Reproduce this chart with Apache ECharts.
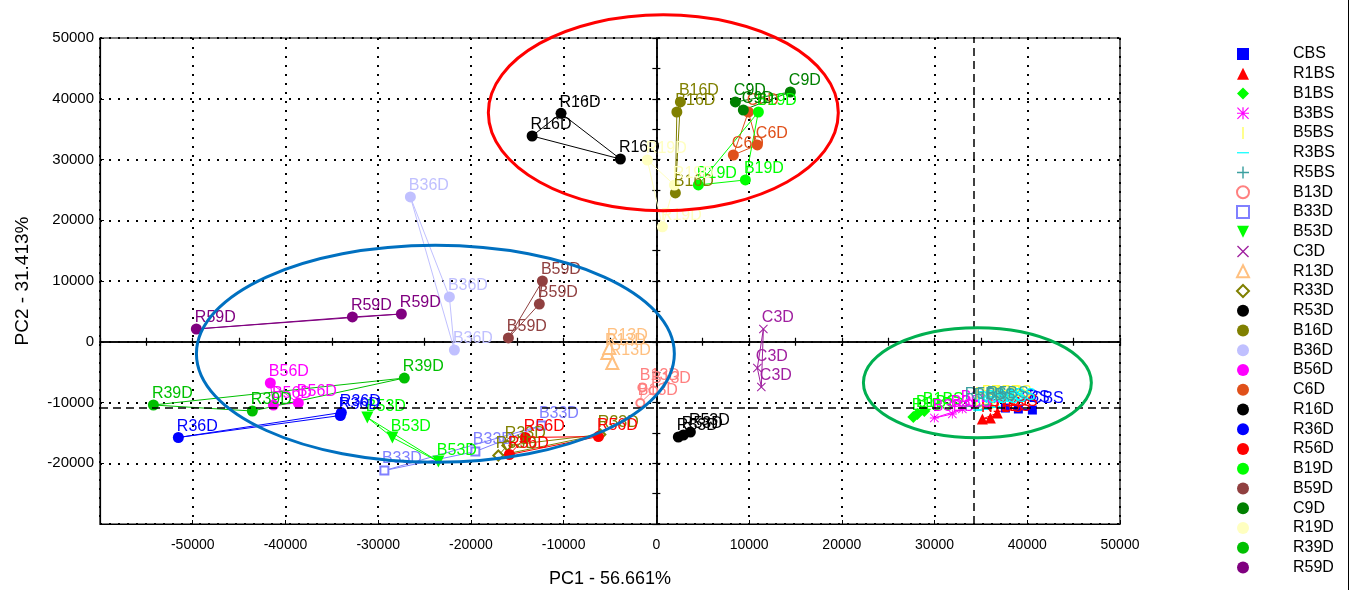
<!DOCTYPE html>
<html>
<head>
<meta charset="utf-8">
<script src="https://cdn.jsdelivr.net/npm/echarts@6/dist/echarts.min.js"></script>
<style>
  html, body { margin: 0; padding: 0; background: #fff; }
  #chart { width: 1351px; height: 590px; }
</style>
</head>
<body>
<div id="chart"></div>
<script>
// PCA scores (PC1, PC2) for each sample, three replicates each
const CBS  = [[40550, -11240], [39040, -11070], [37640, -10910]];
const R1BS = [[35160, -12710], [36020, -12550], [36770, -11730]];
const B1BS = [[27710, -12380], [28150, -11890], [28900, -11400]];
const B3BS = [[29980, -12550], [31920, -11890], [33000, -11070]];
const B5BS = [[35260, -10250], [36230, -10250], [34510, -10580]];
const R3BS = [[34720, -11240], [35590, -11070], [36560, -10740]];
const R5BS = [[33430, -10580], [34400, -10740], [35800, -10410]];
const B13D = [[-1510, -7530], [-320, -8030], [-1730, -10080]];
const B33D = [[-29330, -21200], [-19520, -18070], [-12400, -13790]];
const B53D = [[-31170, -12470], [-28470, -15760], [-23510, -19710]];
const C3D  = [[11540, 2100], [10890, -4320], [11320, -7450]];
const R13D = [[-5280, -1850], [-4750, -3500], [-5070, -1030]];
const R33D = [[-17040, -18730], [-16070, -17080], [-6040, -15270]];
const R53D = [[2370, -15680], [2910, -15350], [3670, -14860]];
const B16D = [[2590, 39470], [2210, 37820], [2050, 24490]];
const B36D = [[-26530, 23830], [-22320, 7370], [-21780, -1360]];
const B56D = [[-41630, -6790], [-38610, -10080], [-41300, -10410]];
const C6D  = [[8300, 30740], [10890, 32390], [9920, 37820]];
const R16D = [[-10280, 37610], [-13400, 33870], [-3880, 30080]];
const R36D = [[-51550, -15760], [-33970, -11650], [-34080, -12140]];
const R56D = [[-6250, -15600], [-14130, -15760], [-15850, -18560]];
const B19D = [[11000, 37820], [9600, 26630], [4530, 25810]];
const B59D = [[-12290, 10000], [-12620, 6210], [-15960, 620]];
const C9D  = [[8520, 39470], [14450, 41110], [9380, 38150]];
const R19D = [[-970, 29920], [650, 18910], [1940, 25800]];
const R39D = [[-54240, -10410], [-27180, -5970], [-43570, -11400]];
const R59D = [[-49610, 2100], [-32780, 4080], [-27500, 4570]];

const sampleNames = ['CBS', 'R1BS', 'B1BS', 'B3BS', 'B5BS', 'R3BS', 'R5BS', 'B13D', 'B33D',
  'B53D', 'C3D', 'R13D', 'R33D', 'R53D', 'B16D', 'B36D', 'B56D', 'C6D', 'R16D', 'R36D',
  'R56D', 'B19D', 'B59D', 'C9D', 'R19D', 'R39D', 'R59D'];
const sampleScores = [CBS, R1BS, B1BS, B3BS, B5BS, R3BS, R5BS, B13D, B33D,
  B53D, C3D, R13D, R33D, R53D, B16D, B36D, B56D, C6D, R16D, R36D,
  R56D, B19D, B59D, C9D, R19D, R39D, R59D];

// Axis titles and reference lines
const xTitle = 'PC1 - 56.661%';
const yTitle = 'PC2 - 31.413%';
const refLineY = -10850;
const refLineX = 34200;

// Group ellipses: centre and semi-axes in score units
const ellipseCenters = [[750, 37700], [-23830, -1980], [34620, -6750]];
const ellipseRadii = [[18870, 16130], [25770, 17860], [12290, 9050]];
const ellipseColors = ['#FF0000', '#0070C0', '#00B050'];

const FONT = '"Liberation Sans", Arial, sans-serif';

// Marker shapes built from filled outlines
const PLUS = 'path://M4.4,0H5.6V4.4H10V5.6H5.6V10H4.4V5.6H0V4.4H4.4Z';
const CROSS = 'path://M0,0.8L0.8,0L5,4.2L9.2,0L10,0.8L5.8,5L10,9.2L9.2,10L5,5.8L0.8,10L0,9.2L4.2,5Z';
const STAR = 'path://M4.5,0H5.5V4.5H10V5.5H5.5V10H4.5V5.5H0V4.5H4.5Z' +
  'M0,0.7L0.7,0L5,4.3L9.3,0L10,0.7L5.7,5L10,9.3L9.3,10L5,5.7L0.7,10L0,9.3L4.3,5Z';
const VBAR = 'path://M0,0H1V10H0Z';
const HBAR = 'path://M0,0H10V1H0Z';
const TRI_DOWN = 'path://M0,0L10,0L5,10Z';

const markerStyle = {
  CBS:  { color: '#0000FF', symbol: 'rect', size: 9 },
  R1BS: { color: '#FF0000', symbol: 'triangle', size: 11 },
  B1BS: { color: '#00FF00', symbol: 'diamond', size: 12 },
  B3BS: { color: '#FF00FF', symbol: STAR, size: 9 },
  B5BS: { color: '#FFFF40', symbol: VBAR, size: [2, 10] },
  R3BS: { color: '#00FFFF', symbol: HBAR, size: [10, 2] },
  R5BS: { color: '#3CA0A0', symbol: PLUS, size: 10 },
  B13D: { color: '#FF8080', symbol: 'emptyCircle', size: 8 },
  B33D: { color: '#8080FF', symbol: 'emptyRect', size: 8 },
  B53D: { color: '#00FF00', symbol: TRI_DOWN, size: 12 },
  C3D:  { color: '#A020A0', symbol: CROSS, size: 9 },
  R13D: { color: '#FFC080', symbol: 'emptyTriangle', size: 12 },
  R33D: { color: '#808000', symbol: 'emptyDiamond', size: 10 },
  R53D: { color: '#000000', symbol: 'circle', size: 11 },
  B16D: { color: '#808000', symbol: 'circle', size: 11 },
  B36D: { color: '#C0C0FF', symbol: 'circle', size: 11 },
  B56D: { color: '#FF00FF', symbol: 'circle', size: 11 },
  C6D:  { color: '#E0501A', symbol: 'circle', size: 11 },
  R16D: { color: '#000000', symbol: 'circle', size: 11 },
  R36D: { color: '#0000FF', symbol: 'circle', size: 11 },
  R56D: { color: '#FF0000', symbol: 'circle', size: 11 },
  B19D: { color: '#00FF00', symbol: 'circle', size: 11 },
  B59D: { color: '#904040', symbol: 'circle', size: 11 },
  C9D:  { color: '#008000', symbol: 'circle', size: 11 },
  R19D: { color: '#FFFFC0', symbol: 'circle', size: 11 },
  R39D: { color: '#00C000', symbol: 'circle', size: 11 },
  R59D: { color: '#800080', symbol: 'circle', size: 11 }
};

function isOpen(symbol) {
  return typeof symbol === 'string' && symbol.indexOf('empty') === 0;
}

// Each sample: its replicates joined into a closed triangle, labelled with the sample name
const sampleSeries = sampleNames.map((name, i) => {
  const st = markerStyle[name];
  const sz = Array.isArray(st.size) ? st.size : [st.size, st.size];
  const pts = sampleScores[i];
  const data = pts.map(p => ({ value: p }));
  data.push({ value: pts[0], symbol: 'none', label: { show: false } });
  return {
    name: name,
    type: 'line',
    xAxisIndex: 0,
    yAxisIndex: 0,
    data: data,
    symbol: st.symbol,
    symbolSize: st.size,
    itemStyle: { color: st.color, borderColor: st.color, borderWidth: isOpen(st.symbol) ? 1.3 : 0 },
    lineStyle: { color: st.color, width: 1 },
    label: {
      show: true,
      formatter: name,
      color: st.color,
      fontSize: 16,
      fontFamily: FONT,
      position: [sz[0] / 2 - 1.5, sz[1] / 2 - 19]
    },
    emphasis: { disabled: true },
    z: 3,
    animation: false
  };
});

// Dashed reference lines
sampleSeries[0].markLine = {
  silent: true,
  symbol: 'none',
  label: { show: false },
  lineStyle: { color: '#000', type: [8, 5], width: 1.5 },
  data: [{ yAxis: refLineY }, { xAxis: refLineX }],
  animation: false
};

const ellipseSeries = {
  type: 'custom',
  coordinateSystem: 'cartesian2d',
  xAxisIndex: 0,
  yAxisIndex: 0,
  silent: true,
  clip: false,
  z: 6,
  animation: false,
  dimensions: ['x', 'y', 'rx', 'ry'],
  encode: { x: 0, y: 1 },
  data: ellipseCenters.map((c, i) => [c[0], c[1], ellipseRadii[i][0], ellipseRadii[i][1]]),
  renderItem: function (params, api) {
    const c = api.coord([api.value(0), api.value(1)]);
    const s = api.size([api.value(2), api.value(3)]);
    return {
      type: 'ellipse',
      shape: { cx: c[0], cy: c[1], rx: s[0], ry: s[1] },
      style: { fill: 'none', stroke: ellipseColors[params.dataIndex], lineWidth: 3 }
    };
  }
};

const xRange = [-60000, 50000];
const yRange = [-30000, 50000];
const plainNumber = v => String(v);

// Crosshair axes through the origin (ticks on both sides)
function zeroAxis(range, inside) {
  return {
    type: 'value', min: range[0], max: range[1], interval: 5000,
    axisLine: { show: true, onZero: true, onZeroAxisIndex: 0, lineStyle: { color: '#000', width: 1.5 } },
    axisTick: { show: true, inside: inside, length: 4, lineStyle: { color: '#000', width: 1.2 } },
    axisLabel: { show: false }, splitLine: { show: false }
  };
}

const chart = echarts.init(document.getElementById('chart'), null, { renderer: 'canvas' });
chart.setOption({
  animation: false,
  backgroundColor: '#FFFFFF',
  textStyle: { fontFamily: FONT },
  grid: {
    left: 100, right: 231, top: 38, bottom: 66,
    outerBoundsMode: 'none', containLabel: false,
    show: true, borderColor: '#000', borderWidth: 1.2, backgroundColor: 'transparent'
  },
  xAxis: [
    {
      type: 'value', min: xRange[0], max: xRange[1], interval: 10000, position: 'bottom',
      name: xTitle, nameLocation: 'middle', nameGap: 46,
      nameTextStyle: { fontSize: 18, color: '#000', fontFamily: FONT },
      axisLine: { show: true, onZero: false, lineStyle: { color: '#000', width: 1.2 } },
      axisTick: { show: true, inside: true, length: 4, lineStyle: { color: '#000' } },
      axisLabel: { showMinLabel: false, fontSize: 14, color: '#000', margin: 14, fontFamily: FONT, formatter: plainNumber },
      splitLine: { show: true, lineStyle: { color: '#000', type: [2, 7], width: 2 } }
    },
    zeroAxis(xRange, true),
    zeroAxis(xRange, false)
  ],
  yAxis: [
    {
      type: 'value', min: yRange[0], max: yRange[1], interval: 10000, position: 'left',
      name: yTitle, nameLocation: 'middle', nameGap: 68, nameRotate: 90,
      nameTextStyle: { fontSize: 19, color: '#000', fontFamily: FONT },
      axisLine: { show: true, onZero: false, lineStyle: { color: '#000', width: 1.2 } },
      axisTick: { show: true, inside: true, length: 4, lineStyle: { color: '#000' } },
      axisLabel: { showMinLabel: false, fontSize: 15, color: '#000', margin: 6, fontFamily: FONT, formatter: plainNumber },
      splitLine: { show: true, lineStyle: { color: '#000', type: [2, 7], width: 2 } }
    },
    zeroAxis(yRange, true),
    zeroAxis(yRange, false)
  ],
  legend: {
    orient: 'vertical',
    left: 1231,
    top: 41,
    itemWidth: 12,
    itemHeight: 12,
    itemGap: 3.75,
    selectedMode: false,
    symbolKeepAspect: true,
    textStyle: { fontSize: 16, color: '#000', fontFamily: FONT, lineHeight: 16, padding: [0, 0, 0, 39] },
    data: sampleNames.map(n => ({
      name: n,
      icon: markerStyle[n].symbol,
      itemStyle: isOpen(markerStyle[n].symbol)
        ? { color: markerStyle[n].color, borderColor: markerStyle[n].color, borderWidth: 1.3 }
        : { color: markerStyle[n].color, borderWidth: 0 }
    }))
  },
  graphic: [{
    type: 'line', silent: true,
    shape: { x1: 1348.5, y1: 0, x2: 1348.5, y2: 590 },
    style: { stroke: '#000', lineWidth: 1 }
  }],
  series: sampleSeries.concat([ellipseSeries])
});
</script>
</body>
</html>
